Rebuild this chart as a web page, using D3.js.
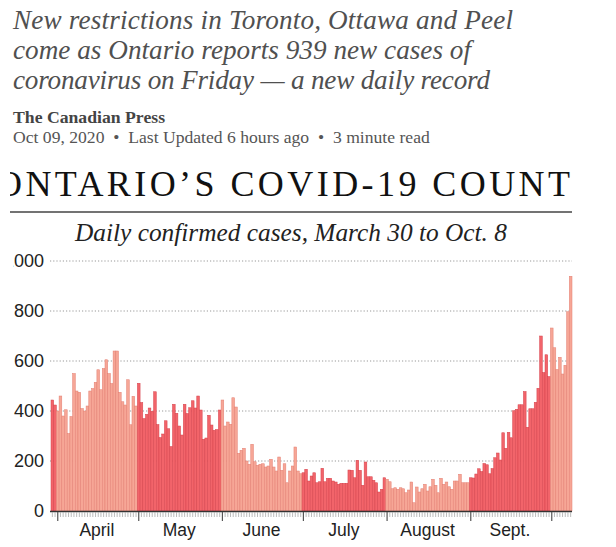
<!DOCTYPE html>
<html>
<head>
<meta charset="utf-8">
<script src="https://cdn.jsdelivr.net/npm/d3@7"></script>
<style>
body { margin: 0; background: #fff; }
svg { display: block; }
</style>
</head>
<body>
<svg id="chart" width="616" height="547"></svg>
<script>
// daily confirmed cases, one array per month (Mar 30 .. Oct 8)
var mar = [444, 424];
var apr = [400, 460, 380, 405, 310, 378, 550, 480, 475, 410, 400, 420, 480, 490, 515,
           565, 485, 570, 605, 550, 510, 640, 640, 475, 437, 424, 525, 345, 459, 420];
var may = [511, 434, 370, 387, 412, 399, 477, 346, 294, 308, 361, 329, 258, 427, 391,
           340, 304, 427, 390, 413, 441, 412, 460, 404, 287, 292, 383, 344, 323, 326, 404];
var jun = [444, 340, 356, 347, 453, 416, 231, 243, 251, 200, 187, 267, 197, 183, 187,
           189, 176, 180, 207, 176, 160, 216, 163, 189, 113, 160, 180, 256, 160, 149];
var jul = [153, 167, 120, 140, 153, 113, 117, 171, 117, 131, 131, 120, 116, 107, 111,
           111, 111, 164, 163, 133, 203, 163, 103, 196, 137, 137, 123, 113, 76, 87, 133];
var aug = [127, 117, 89, 93, 87, 93, 89, 73, 84, 116, 33, 96, 76, 89, 107,
           80, 97, 127, 103, 73, 131, 107, 116, 97, 87, 120, 120, 147, 113, 113, 113];
var sep = [133, 132, 148, 169, 158, 190, 185, 149, 170, 213, 232, 204, 313, 251, 315,
           293, 401, 407, 425, 425, 478, 335, 409, 409, 435, 491, 700, 554, 625, 538];
var oct = [732, 653, 566, 615, 548, 583, 797, 939];

var cases = [].concat(mar, apr, may, jun, jul, aug, sep, oct);
var monthLabels = ["April", "May", "June", "July", "August", "Sept."];
var labelMonths = [3, 4, 5, 6, 7, 8];
var yTicks = [0, 200, 400, 600, 800, 1000];

var headline = ["New restrictions in Toronto, Ottawa and Peel",
                "come as Ontario reports 939 new cases of",
                "coronavirus on Friday \u2014 a new daily record"];

var days = d3.timeDay.range(new Date(2020, 2, 30), new Date(2020, 9, 9));
var data = days.map(function(d, i) { return {date: d, value: cases[i]}; });

var svg = d3.select('#chart');

// scale a text's font so it spans the given width
function fit(text, width) {
  var size = parseFloat(text.attr('font-size'));
  var w = text.node().getComputedTextLength();
  text.attr('font-size', (size * width / w).toFixed(2));
}

// ---- article header ----
var head = svg.append('g');
var hl = head.selectAll('text').data(headline).enter().append('text')
    .attr('x', 13)
    .attr('y', function(d, i) { return 29 + i * 30; })
    .attr('font-family', 'Liberation Serif, serif')
    .attr('font-style', 'italic')
    .attr('font-size', 28)
    .attr('fill', '#505050')
    .text(function(d) { return d; });
var hlWidths = [500, 458, 477];
var sizes = hl.nodes().map(function(n, i) { return 28 * hlWidths[i] / n.getComputedTextLength(); });
hl.attr('font-size', d3.mean(sizes).toFixed(2))
  .attr('textLength', function(d, i) { return hlWidths[i]; })
  .attr('lengthAdjust', 'spacing');

var byline = head.append('text')
    .attr('x', 13).attr('y', 123)
    .attr('font-family', 'Liberation Serif, serif')
    .attr('font-weight', 'bold')
    .attr('font-size', 16)
    .attr('fill', '#444')
    .text('The Canadian Press');
fit(byline, 152);

var dateline = head.append('text')
    .attr('x', 13).attr('y', 143)
    .attr('font-family', 'Liberation Serif, serif')
    .attr('font-size', 16)
    .attr('fill', '#555')
    .text('Oct 09, 2020  \u2022  Last Updated 6 hours ago  \u2022  3 minute read')
    .attr('xml:space', 'preserve')
    .style('white-space', 'pre');
fit(dateline, 417);

// ---- chart graphic (its left edge is cropped) ----
svg.append('clipPath').attr('id', 'crop')
  .append('rect').attr('x', 10).attr('y', 150).attr('width', 606).attr('height', 397);
svg.append('clipPath').attr('id', 'croplab')
  .append('rect').attr('x', 13.5).attr('y', 150).attr('width', 602).attr('height', 397);

var g = svg.append('g').attr('clip-path', 'url(#crop)');

var title = g.append('text')
    .attr('x', -4).attr('y', 196)
    .attr('font-family', 'Liberation Serif, serif')
    .attr('font-size', 36)
    .attr('fill', '#111')
    .text('ONTARIO\u2019S COVID-19 COUNT');
var tw = title.node().getComputedTextLength();
title.attr('letter-spacing', ((574 - tw) / 23).toFixed(2));

g.append('line')
    .attr('x1', 10).attr('x2', 572)
    .attr('y1', 212).attr('y2', 212)
    .attr('stroke', '#444').attr('stroke-width', 1.6);

var sub = g.append('text')
    .attr('x', 291).attr('y', 241)
    .attr('text-anchor', 'middle')
    .attr('font-family', 'Liberation Serif, serif')
    .attr('font-style', 'italic')
    .attr('font-size', 22)
    .attr('fill', '#222')
    .text('Daily confirmed cases, March 30 to Oct. 8');
fit(sub, 432);

var x = d3.scaleBand().domain(days).range([51, 572]).padding(0);
var y = d3.scaleLinear().domain([0, 1000]).range([511, 261]);

// gridlines + y labels
g.selectAll('.grid').data(yTicks.slice(1)).enter().append('line')
    .attr('class', 'grid')
    .attr('x1', 50).attr('x2', 572)
    .attr('y1', function(d) { return y(d); })
    .attr('y2', function(d) { return y(d); })
    .attr('stroke', '#999')
    .attr('stroke-width', 1)
    .attr('stroke-dasharray', '1.2,2');

svg.append('g').attr('clip-path', 'url(#croplab)')
  .selectAll('.ylab').data(yTicks).enter().append('text')
    .attr('class', 'ylab')
    .attr('x', 44)
    .attr('y', function(d) { return y(d); })
    .attr('dy', '0.36em')
    .attr('text-anchor', 'end')
    .attr('font-family', 'Liberation Sans, Arial, sans-serif')
    .attr('font-size', 18)
    .attr('fill', '#222')
    .text(function(d) { return d; });

// bars, alternating shade by month
function dark(d) { return d.date.getMonth() % 2 == 0; }

g.selectAll('.bar').data(data).enter().append('rect')
    .attr('class', 'bar')
    .attr('x', function(d) { return x(d.date); })
    .attr('y', function(d) { return y(d.value); })
    .attr('width', x.bandwidth())
    .attr('height', function(d) { return y(0) - y(d.value); })
    .attr('fill', function(d) { return dark(d) ? '#f2646a' : '#f6a696'; })
    .attr('stroke', function(d) { return dark(d) ? '#d6434c' : '#e47f72'; })
    .attr('stroke-width', 0.5);

// x axis: baseline, daily ticks, longer ticks at month starts
g.append('line')
    .attr('x1', 50).attr('x2', 572)
    .attr('y1', y(0) + 0.5).attr('y2', y(0) + 0.5)
    .attr('stroke', '#333').attr('stroke-width', 1.5);

g.selectAll('.tick').data(days).enter().append('line')
    .attr('class', 'tick')
    .attr('x1', function(d) { return x(d) + x.bandwidth() / 2; })
    .attr('x2', function(d) { return x(d) + x.bandwidth() / 2; })
    .attr('y1', y(0) + 1)
    .attr('y2', function(d) { return d.getDate() == 1 ? y(0) + 10 : y(0) + 6; })
    .attr('stroke', function(d) { return d.getDate() == 1 ? '#555' : '#aaa'; })
    .attr('stroke-width', function(d) { return d.getDate() == 1 ? 1.2 : 0.8; });

g.selectAll('.mlab').data(labelMonths).enter().append('text')
    .attr('class', 'mlab')
    .attr('x', function(m) {
      var inMonth = days.filter(function(d) { return d.getMonth() == m; });
      return (x(inMonth[0]) + x(inMonth[inMonth.length - 1]) + x.bandwidth()) / 2;
    })
    .attr('y', 536)
    .attr('text-anchor', 'middle')
    .attr('font-family', 'Liberation Sans, Arial, sans-serif')
    .attr('font-size', 17.5)
    .attr('fill', '#222')
    .text(function(m, i) { return monthLabels[i]; });
</script>
</body>
</html>
